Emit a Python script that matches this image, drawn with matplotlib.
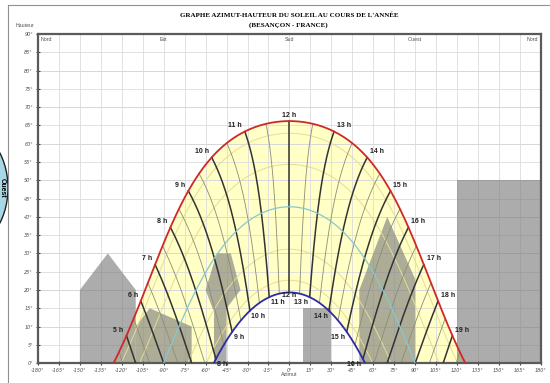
import numpy as np
import matplotlib.pyplot as plt
from matplotlib.patches import Polygon, Ellipse

# Besançon sun path data
latitude = 47.24
summer_decl = 23.44
winter_decl = -23.44
equinox_decl = 0.0
month_decls = [20.1, 11.6, -11.6, -20.1]
summer_labels = [5, 6, 7, 8, 9, 10, 11, 12, 13, 14, 15, 16, 17, 18, 19]
winter_labels = [8, 9, 10, 11, 12, 13, 14, 15, 16]
hour_lines = [4.5, 5, 5.5, 6, 6.5, 7, 7.5, 8, 8.5, 9, 9.5, 10, 10.5, 11, 11.5, 12,
              12.5, 13, 13.5, 14, 14.5, 15, 15.5, 16, 16.5, 17, 17.5, 18, 18.5, 19, 19.5]

# horizon masks (azimut, hauteur)
mask_house = [(-150, 0), (-150, 20), (-130, 30), (-110, 20), (-110, 0)]
mask_wall = [(-110, 0), (-110, 10), (-100, 15), (-70, 10), (-70, 0)]
mask_tree = [(-54, 0), (-54, 14), (-60, 20), (-52, 30), (-42, 30), (-35, 20), (-45, 15), (-45, 0)]
mask_roof = [(50, 0), (50, 20), (70, 40), (90, 23), (90, 0)]
mask_pole = [(10, 0), (10, 15), (30, 15), (30, 0)]
mask_building = [(120, 0), (120, 50), (180, 50), (180, 0)]

x_ticks = list(range(-180, 181, 15))
y_ticks = list(range(0, 91, 5))
cardinals = [(-180, 'Nord', 'left'), (-90, 'Est', 'center'), (0, 'Sud', 'center'),
             (90, 'Ouest', 'center'), (180, 'Nord', 'right')]


def sun_position(t, decl):
    """Return (azimut from south, hauteur) in degrees for solar time t."""
    phi = np.radians(latitude)
    d = np.radians(decl)
    H = np.radians(15.0 * (np.asarray(t) - 12.0))
    sin_alt = np.sin(phi) * np.sin(d) + np.cos(phi) * np.cos(d) * np.cos(H)
    alt = np.degrees(np.arcsin(sin_alt))
    az = np.degrees(np.arctan2(np.sin(H), np.cos(H) * np.sin(phi) - np.tan(d) * np.cos(phi)))
    return az, alt


def day_curve(decl):
    t = np.linspace(0, 24, 1500)
    az, alt = sun_position(t, decl)
    keep = alt >= 0
    return az[keep], alt[keep]


fig = plt.figure(figsize=(5.5, 3.83), dpi=100)
ax = fig.add_axes([0.069, 0.052, 0.9145, 0.859])
ax.set_xlim(-180, 180)
ax.set_ylim(0, 90)

# yellow area between summer and winter paths
s_az, s_alt = day_curve(summer_decl)
w_az, w_alt = day_curve(winter_decl)
poly = np.vstack([np.column_stack([s_az, s_alt]), np.column_stack([w_az[::-1], w_alt[::-1]])])
ax.add_patch(Polygon(poly, closed=True, facecolor='#ffffc6', edgecolor='none', zorder=0.3))

# grid
ax.set_xticks(x_ticks)
ax.set_yticks(y_ticks)
ax.set_xticks(range(-180, 181, 45), minor=True)
ax.grid(True, which='major', color='#dcdcdc', lw=0.6, zorder=0.5)
ax.grid(True, which='minor', axis='x', color='#b8b8b8', lw=0.8, zorder=0.5)
for y in range(0, 91, 10):
    ax.axhline(y, color='#c4c4c4', lw=0.7, zorder=0.5)
ax.set_axisbelow(True)

# masks
for m in [mask_house, mask_wall, mask_tree, mask_roof, mask_pole, mask_building]:
    ax.add_patch(Polygon(m, closed=True, facecolor='#7a7a7a', alpha=0.62,
                         edgecolor='none', zorder=1))

# monthly paths
for d in month_decls:
    az, alt = day_curve(d)
    ax.plot(az, alt, color='#e6dc96', lw=0.7, zorder=2)

# hour lines
decl_span = np.linspace(winter_decl, summer_decl, 200)
for h in hour_lines:
    az, alt = sun_position(h, decl_span)
    alt = np.where(alt >= 0, alt, np.nan)
    if float(h).is_integer():
        ax.plot(az, alt, color='#333333', lw=1.1, zorder=3)
    else:
        ax.plot(az, alt, color='#8c8c78', lw=0.6, zorder=2.5)

az, alt = day_curve(equinox_decl)
ax.plot(az, alt, color='#86c8d2', lw=0.9, zorder=3.2)
ax.plot(s_az, s_alt, color='#d02828', lw=1.3, zorder=4)
ax.plot(w_az, w_alt, color='#2c2ca6', lw=1.3, zorder=4)

lab = dict(fontsize=5, fontweight='bold', family='Liberation Sans', color='#202020', zorder=5)
for h in summer_labels:
    az, alt = sun_position(h, summer_decl)
    if h < 12:
        ax.annotate(f'{h} h', (az, alt), xytext=(-2, 1.5), textcoords='offset points',
                    ha='right', va='bottom', **lab)
    elif h > 12:
        ax.annotate(f'{h} h', (az, alt), xytext=(2, 1.5), textcoords='offset points',
                    ha='left', va='bottom', **lab)
    else:
        ax.annotate(f'{h} h', (az, alt), xytext=(0, 1.5), textcoords='offset points',
                    ha='center', va='bottom', **lab)
for h in winter_labels:
    az, alt = sun_position(h, winter_decl)
    alt = max(alt, 0.0)
    if h < 12:
        ax.annotate(f'{h} h', (az, alt), xytext=(1, -1.5), textcoords='offset points',
                    ha='left', va='top', **lab)
    elif h > 12:
        ax.annotate(f'{h} h', (az, alt), xytext=(-1, -1.5), textcoords='offset points',
                    ha='right', va='top', **lab)
    else:
        ax.annotate(f'{h} h', (az, alt), xytext=(0, 0.5), textcoords='offset points',
                    ha='center', va='top', **lab)

for x, name, ha in cardinals:
    off = 2 if ha == 'left' else (-2 if ha == 'right' else 0)
    ax.annotate(name, (x, 90), xytext=(off, -2), textcoords='offset points',
                ha=ha, va='top', fontsize=3.8, color='#505050', family='Liberation Sans')

ax.set_xticklabels([f'{v}°' for v in x_ticks], fontsize=3.5, color='#505050', style='italic')
ax.set_yticklabels([f'{v}°' for v in y_ticks], fontsize=3.5, color='#505050', style='italic')
ax.tick_params(which='major', direction='inout', length=3, width=0.8, color='#404040', pad=2)
ax.tick_params(which='minor', length=0)
for s in ax.spines.values():
    s.set_color('#5a5a5a')
    s.set_linewidth(1.6)

fig.text(0.525, 0.960, "GRAPHE AZIMUT-HAUTEUR DU SOLEIL AU COURS DE L'ANNÉE",
         ha='center', va='center', fontsize=5.0, fontweight='bold', family='Liberation Serif')
fig.text(0.525, 0.934, '(BESANÇON - FRANCE)', ha='center', va='center',
         fontsize=5.0, fontweight='bold', family='Liberation Serif')
fig.text(0.029, 0.930, 'Hauteur', fontsize=3.8, color='#505050', family='Liberation Sans')
fig.text(0.525, 0.018, 'Azimut', ha='center', fontsize=3.8, color='#505050', family='Liberation Sans')

# page border and neighbouring badge
fig.add_artist(plt.Line2D([8 / 550, 1], [1 - 5 / 383, 1 - 5 / 383], color='#909090', lw=0.8))
fig.add_artist(plt.Line2D([8 / 550, 8 / 550], [0, 1 - 5 / 383], color='#909090', lw=0.8))
fig.add_artist(Ellipse((-40 / 550, 1 - 188 / 383), 96 / 550, 126 / 383,
                       facecolor='#a8d8e6', edgecolor='#202020', lw=1.0, transform=fig.transFigure))
fig.text(0.004, 1 - 188 / 383, 'Ouest', rotation=-90, ha='center', va='center',
         fontsize=5, fontweight='bold', family='Liberation Sans')

fig.savefig('out.png', dpi=100)
